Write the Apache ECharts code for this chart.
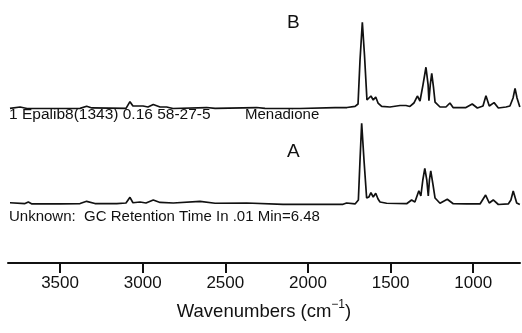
<!DOCTYPE html>
<html><head><meta charset="utf-8">
<script src="https://cdn.jsdelivr.net/npm/echarts@6/dist/echarts.min.js"></script>
<style>html,body{margin:0;padding:0;background:#fff}#c{width:522px;height:333px}</style>
</head><body><div id="c"></div>
<script>
// Spectrum B (library: Menadione)
const wnB = [3803,3742,3700,3379,3339,3307,3101,3077,3059,2998,2968,2936,2895,2855,2817,2613,2562,2310,2260,2048,1836,1764,1715,1697,1685,1671,1658,1643,1631,1619,1605,1590,1576,1554,1504,1443,1407,1383,1359,1338,1322,1304,1286,1273,1268,1260,1251,1240,1231,1201,1165,1141,1122,1044,1006,975,941,923,903,874,848,802,778,759,747,735,718];
const absB = [0.002,0.017,0.000,0.002,0.025,0.006,0.002,0.077,0.028,0.028,0.017,0.045,0.017,0.017,0.000,0.011,0.002,0.011,0.002,0.000,0.011,0.011,0.023,0.051,0.548,0.974,0.605,0.096,0.107,0.141,0.096,0.130,0.062,0.023,0.017,0.034,0.034,0.023,0.062,0.141,0.085,0.266,0.466,0.266,0.088,0.266,0.398,0.232,0.073,0.017,0.017,0.062,0.011,0.011,0.051,0.006,0.028,0.145,0.028,0.066,0.006,0.017,0.028,0.119,0.228,0.119,0.017];
// Spectrum A (unknown)
const wnA = [3803,3712,3692,3670,3500,3379,3339,3289,3157,3101,3077,3059,3016,2980,2936,2895,2815,2653,2562,2371,2151,1788,1766,1715,1695,1685,1675,1661,1645,1631,1619,1605,1590,1576,1564,1524,1403,1373,1353,1329,1317,1305,1293,1281,1272,1265,1257,1243,1231,1201,1157,1121,1040,959,925,903,879,848,788,772,758,737,718];
const absA = [0.020,0.011,0.028,0.006,0.006,0.011,0.036,0.011,0.011,0.017,0.081,0.020,0.028,0.017,0.051,0.023,0.017,0.036,0.014,0.017,0.002,0.002,0.017,0.006,0.051,0.503,0.918,0.503,0.073,0.085,0.133,0.085,0.127,0.062,0.028,0.014,0.009,0.051,0.028,0.156,0.096,0.277,0.409,0.277,0.096,0.277,0.379,0.220,0.073,0.014,0.059,0.009,0.006,0.006,0.107,0.017,0.051,0.000,0.006,0.051,0.153,0.017,0.000];
const tickValues = [3500,3000,2500,2000,1500,1000];
const labelB = 'B', labelA = 'A';
const captionB1 = '1 Epalib8(1343) 0.16 58-27-5';
const captionB2 = 'Menadione';
const captionA = 'Unknown:  GC Retention Time In .01 Min=6.48';
const xTitle = 'Wavenumbers (cm{sup|−1})';

const FONT = '"Liberation Sans", Arial, Helvetica, sans-serif';
const XMIN = 717, XMAX = 3815;
const chart = echarts.init(document.getElementById('c'), null, {renderer:'canvas'});
const hiddenX = i => ({gridIndex:i, type:'value', min:XMIN, max:XMAX, inverse:true, show:false});
const hiddenY = i => ({gridIndex:i, type:'value', min:0, max:1, show:false});
const lineSeries = (i, w, a) => ({
  type:'line', xAxisIndex:i, yAxisIndex:i, data:w.map((x,k)=>[x,a[k]]),
  showSymbol:false, clip:false, lineStyle:{color:'#111', width:1.7}, silent:true
});
chart.setOption({
  animation:false,
  backgroundColor:'#fff',
  grid:[
    {left:8, width:512, top:20, height:88.5},
    {left:8, width:512, top:116, height:88.5},
    {left:8, width:512, top:240, height:23}
  ],
  xAxis:[hiddenX(0), hiddenX(1), {
    gridIndex:2, type:'value', min:XMIN, max:XMAX, inverse:true,
    axisLine:{show:true, onZero:false, lineStyle:{color:'#111', width:2}},
    axisTick:{show:true, customValues:tickValues, length:10, lineStyle:{color:'#111', width:2}},
    axisLabel:{customValues:tickValues, color:'#111', fontSize:17, fontFamily:FONT, margin:12,
      formatter: v => String(v)},
    splitLine:{show:false},
    name:xTitle, nameLocation:'middle', nameGap:36,
    nameTextStyle:{color:'#111', fontSize:18.5, fontFamily:FONT,
      rich:{sup:{fontSize:12, fontFamily:FONT, color:'#111', verticalAlign:'top', padding:[0,0,13,0]}}}
  }],
  yAxis:[hiddenY(0), hiddenY(1), {gridIndex:2, type:'value', show:false}],
  series:[lineSeries(0, wnB, absB), lineSeries(1, wnA, absA)],
  graphic:[
    {type:'text', left:287, top:13, style:{text:labelB, fontSize:19, fontFamily:FONT, fill:'#111'}},
    {type:'text', left:287, top:142, style:{text:labelA, fontSize:19, fontFamily:FONT, fill:'#111'}},
    {type:'text', left:9, top:107, style:{text:captionB1, fontSize:15.5, fontFamily:FONT, fill:'#111'}},
    {type:'text', left:245, top:107, style:{text:captionB2, fontSize:15, fontFamily:FONT, fill:'#111'}},
    {type:'text', left:9, top:209, style:{text:captionA, fontSize:15, fontFamily:FONT, fill:'#111'}}
  ]
});
</script></body></html>
